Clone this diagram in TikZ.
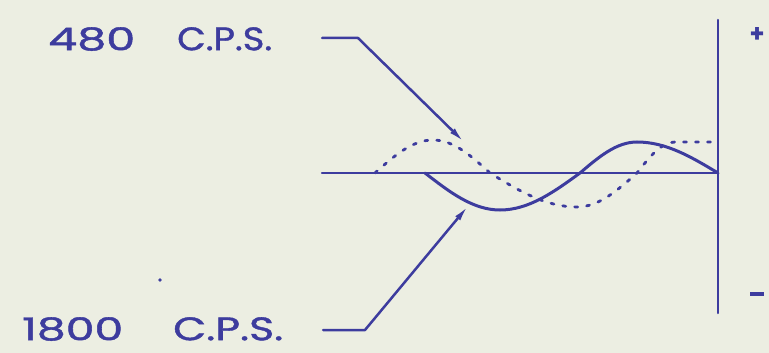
\documentclass[tikz,border=0pt]{standalone}
\usepackage{fontspec}
\setmainfont{Poppins}
\newfontfamily\letterfont{Poppins}[FakeBold=1.2]
\usetikzlibrary{arrows.meta}
\definecolor{ink}{HTML}{3D3C9E}
\definecolor{paper}{HTML}{ECEEE2}
\begin{document}
\begin{tikzpicture}[x=1pt,y=-1pt,
  ink line/.style={draw=ink,line width=2.5pt,line cap=round,line join=round},
  wave/.style={draw=ink,line width=3pt,line cap=round},
  dotted wave/.style={draw=ink,line width=2.8pt,line cap=round,dash pattern=on 3pt off 9pt},
  leader/.style={ink line,-{Latex[length=16pt,width=6.5pt]}},
  lbl/.style={inner sep=0pt,anchor=north west,text=ink,font=\letterfont},
  sign/.style={inner sep=0pt,text=ink,font=\bfseries}]
\fill[paper] (0,0) rectangle (769,353);
\useasboundingbox (0,0) rectangle (769,353);
% axes
\coordinate (axL) at (322,173);
\coordinate (axR) at (718,173);
\coordinate (vT) at (718,20);
\coordinate (vB) at (718,313);
\draw[ink line] (axL) -- (axR);
\draw[ink line] (vT) -- (vB);
% 480 c.p.s. wave (dotted)
\draw[dotted wave] (375,173) sin (433,140) cos (490,173) sin (577,207) cos (637,173) sin (675,142) -- (718,142);
% 1800 c.p.s. wave (solid)
\draw[wave] (425,173) sin (500,210) cos (580,173) sin (637,142) cos (718,173);
% labels
\node[lbl] (lab480) at (48,27) {\resizebox{87pt}{23pt}{480}\hspace{42pt}\resizebox{95pt}{23pt}{C.P.S.}};
\node[lbl] (lab1800) at (22,317) {\resizebox{101pt}{23pt}{1800}\hspace{50pt}\resizebox{110pt}{23pt}{C.P.S.}};
\node[sign] (plus) at (757,35) {\resizebox{15pt}{15pt}{+}};
\node[sign] (minus) at (757,294) {\resizebox{14pt}{3.5pt}{\rule{1em}{0.2em}}};
% leaders
\coordinate (s480) at (322,38);
\coordinate (k480) at (358,38);
\coordinate (t480) at (464,142);
\draw[leader] (s480) -- (k480) -- (t480);
\coordinate (s1800) at (323,330);
\coordinate (k1800) at (365,330);
\coordinate (t1800) at (468,206);
\draw[leader] (s1800) -- (k1800) -- (t1800);
% speck
\fill[ink] (160,280) circle (1.8pt);
\end{tikzpicture}
\end{document}
